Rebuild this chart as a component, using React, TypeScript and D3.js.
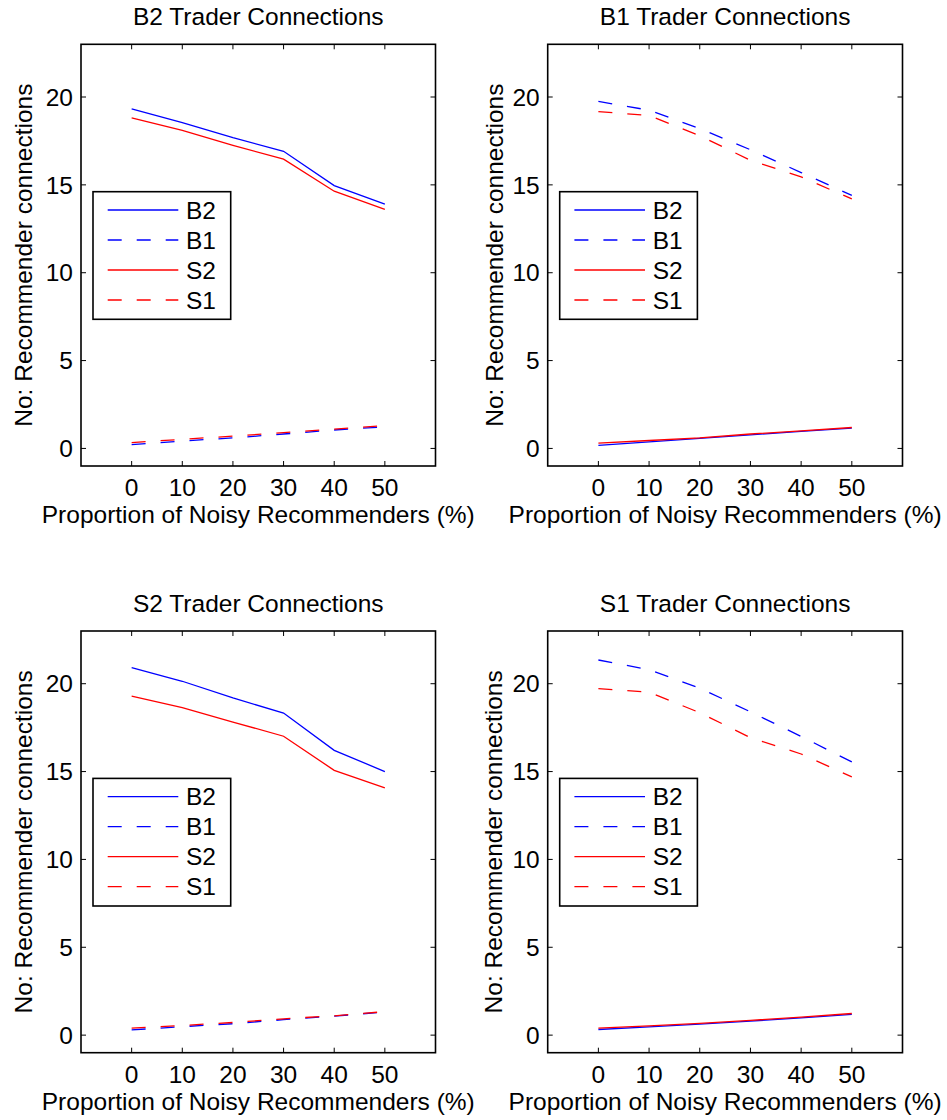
import React from "react";
import * as d3 from "d3";

const xValues = [0, 10, 20, 30, 40, 50];
const xTicks = [0, 10, 20, 30, 40, 50];
const yTicks = [0, 5, 10, 15, 20];
const seriesNames = ["B2", "B1", "S2", "S1"];
const panelTitles = ["B2 Trader Connections", "B1 Trader Connections", "S2 Trader Connections", "S1 Trader Connections"];
const xLabel = "Proportion of Noisy Recommenders (%)";
const yLabel = "No: Recommender connections";

// Panel: B2 trader
const b2Trader_B2 = [19.32, 18.54, 17.69, 16.91, 14.96, 13.9];
const b2Trader_B1 = [0.22, 0.42, 0.6, 0.82, 1.05, 1.23];
const b2Trader_S2 = [18.81, 18.1, 17.25, 16.46, 14.64, 13.61];
const b2Trader_S1 = [0.33, 0.52, 0.7, 0.9, 1.1, 1.3];
// Panel: B1 trader
const b1Trader_B2 = [0.17, 0.37, 0.57, 0.77, 0.97, 1.15];
const b1Trader_B1 = [19.75, 19.25, 18.2, 17.0, 15.7, 14.4];
const b1Trader_S2 = [0.3, 0.45, 0.6, 0.82, 1.0, 1.19];
const b1Trader_S1 = [19.17, 18.95, 17.8, 16.4, 15.45, 14.2];
// Panel: S2 trader
const s2Trader_B2 = [20.92, 20.14, 19.19, 18.33, 16.21, 15.0];
const s2Trader_B1 = [0.3, 0.48, 0.65, 0.88, 1.08, 1.32];
const s2Trader_S2 = [19.3, 18.64, 17.82, 17.01, 15.07, 14.07];
const s2Trader_S1 = [0.4, 0.55, 0.72, 0.93, 1.1, 1.34];
// Panel: S1 trader
const s1Trader_B2 = [0.32, 0.47, 0.63, 0.8, 0.98, 1.18];
const s1Trader_B1 = [21.35, 20.8, 19.75, 18.4, 17.0, 15.55];
const s1Trader_S2 = [0.4, 0.53, 0.67, 0.84, 1.02, 1.23];
const s1Trader_S1 = [19.72, 19.52, 18.35, 16.93, 16.0, 14.7];

const panelData = [
  [b2Trader_B2, b2Trader_B1, b2Trader_S2, b2Trader_S1],
  [b1Trader_B2, b1Trader_B1, b1Trader_S2, b1Trader_S1],
  [s2Trader_B2, s2Trader_B1, s2Trader_S2, s2Trader_S1],
  [s1Trader_B2, s1Trader_B1, s1Trader_S2, s1Trader_S1],
];

const seriesColor = ["#0000ff", "#0000ff", "#ff0000", "#ff0000"];
const seriesDash = [null, "14,15", null, "14,15"];

const FONT = "'Liberation Sans', Arial, Helvetica, sans-serif";
const FS = 24.5;

const panels = [
  { left: 81, right: 435.5, top: 44.3, bottom: 466, ylabX: 31.5 },
  { left: 547.7, right: 902.5, top: 44.3, bottom: 466, ylabX: 502.5 },
  { left: 81, right: 435.5, top: 631, bottom: 1052.7, ylabX: 31.5 },
  { left: 547.7, right: 902.5, top: 631, bottom: 1052.7, ylabX: 501.5 },
];

function Panel({ idx }: { idx: number }) {
  const p = panels[idx];
  const x = d3.scaleLinear().domain([-10, 60]).range([p.left, p.right]);
  const y = d3.scaleLinear().domain([-1, 23]).range([p.bottom, p.top]);
  const line = d3
    .line<number>()
    .x((_, i) => x(xValues[i]))
    .y((d) => y(d));
  const data = panelData[idx];
  const tickLen = 5;
  const cx = (p.left + p.right) / 2;
  const cy = (p.top + p.bottom) / 2;
  const legL = p.left + 12;
  const legT = p.top + 147.4;
  const legW = 137.7;
  const legH = 127.6;
  return (
    <g>
      <text x={cx} y={p.top - 19.3} textAnchor="middle" fontSize={FS} fontFamily={FONT} fill="#000">
        {panelTitles[idx]}
      </text>
      {data.map((vals, si) => (
        <path
          key={si}
          d={line(vals) || ""}
          fill="none"
          stroke={seriesColor[si]}
          strokeWidth={1.3}
          strokeDasharray={seriesDash[si] || undefined}
        />
      ))}
      {/* ticks */}
      {xTicks.map((t) => (
        <g key={"xt" + t}>
          <line x1={x(t)} x2={x(t)} y1={p.bottom} y2={p.bottom - tickLen} stroke="#000" strokeWidth={1} />
          <line x1={x(t)} x2={x(t)} y1={p.top} y2={p.top + tickLen} stroke="#000" strokeWidth={1} />
          <text x={x(t)} y={p.bottom + 30} textAnchor="middle" fontSize={FS} fontFamily={FONT} fill="#000">
            {t}
          </text>
        </g>
      ))}
      {yTicks.map((t) => (
        <g key={"yt" + t}>
          <line x1={p.left} x2={p.left + tickLen} y1={y(t)} y2={y(t)} stroke="#000" strokeWidth={1} />
          <line x1={p.right} x2={p.right - tickLen} y1={y(t)} y2={y(t)} stroke="#000" strokeWidth={1} />
          <text x={p.left - 8} y={y(t) + 8.7} textAnchor="end" fontSize={FS} fontFamily={FONT} fill="#000">
            {t}
          </text>
        </g>
      ))}
      <rect x={p.left} y={p.top} width={p.right - p.left} height={p.bottom - p.top} fill="none" stroke="#000" strokeWidth={1.6} />
      <text x={cx} y={p.bottom + 57} textAnchor="middle" fontSize={FS} fontFamily={FONT} fill="#000">
        {xLabel}
      </text>
      <text
        transform={`translate(${p.ylabX},${cy}) rotate(-90)`}
        textAnchor="middle"
        fontSize={FS}
        fontFamily={FONT}
        fill="#000"
      >
        {yLabel}
      </text>
      {/* legend */}
      <rect x={legL} y={legT} width={legW} height={legH} fill="#fff" stroke="#000" strokeWidth={1.6} />
      {seriesNames.map((name, si) => {
        const ly = legT + 18.3 + si * 30;
        return (
          <g key={"lg" + si}>
            <line
              x1={legL + 14.7}
              x2={legL + 85.3}
              y1={ly}
              y2={ly}
              stroke={seriesColor[si]}
              strokeWidth={1.3}
              strokeDasharray={seriesDash[si] || undefined}
            />
            <text x={legL + 93} y={ly + 8.6} fontSize={FS} fontFamily={FONT} fill="#000">
              {name}
            </text>
          </g>
        );
      })}
    </g>
  );
}

export default function App() {
  return (
    <svg
      width={947}
      height={1120}
      style={{ position: "absolute", left: 0, top: 0, background: "#fff" }}
    >
      <rect x={0} y={0} width={947} height={1120} fill="#fff" />
      {[0, 1, 2, 3].map((i) => (
        <Panel key={i} idx={i} />
      ))}
    </svg>
  );
}
